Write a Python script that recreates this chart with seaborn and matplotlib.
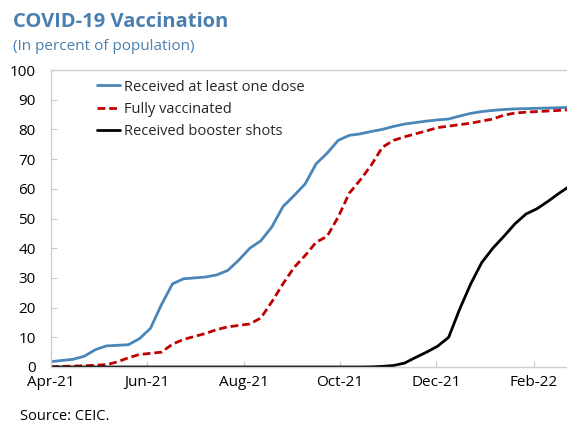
import matplotlib
matplotlib.use("Agg")
import matplotlib.pyplot as plt
import matplotlib.dates as mdates
import seaborn as sns
import pandas as pd

# ---- data (percent of population), weekly from 1 Apr 2021, last point 22 Feb 2022
dates = list(pd.date_range("2021-04-01", periods=47, freq="7D")) + [pd.Timestamp("2022-02-22")]

one_dose = [1.8, 2.2, 2.6, 3.6, 5.8, 7.1, 7.3, 7.5, 9.5, 13.0, 21.0, 28.0, 29.7, 30.0,
            30.3, 31.0, 32.5, 36.0, 40.0, 42.5, 47.2, 54.0, 57.7, 61.6, 68.4, 72.0,
            76.3, 78.0, 78.5, 79.3, 80.0, 81.0, 81.8, 82.3, 82.8, 83.2, 83.5, 84.5,
            85.4, 86.0, 86.4, 86.7, 86.9, 87.0, 87.1, 87.2, 87.3, 87.4]
fully = [0.1, 0.2, 0.3, 0.4, 0.6, 0.8, 1.7, 3.1, 4.2, 4.6, 5.0, 7.7, 9.3, 10.3,
         11.3, 12.6, 13.5, 14.0, 14.5, 16.5, 22.0, 28.0, 33.5, 37.5, 42.0, 44.0,
         50.5, 58.5, 63.0, 68.0, 74.0, 76.3, 77.5, 78.5, 79.5, 80.6, 81.1, 81.6,
         82.1, 82.8, 83.5, 84.8, 85.5, 85.8, 86.0, 86.2, 86.4, 86.6]
booster = [0, 0, 0, 0, 0, 0, 0, 0, 0, 0, 0, 0, 0, 0,
           0, 0, 0, 0, 0, 0, 0, 0, 0, 0, 0, 0,
           0, 0, 0, 0.05, 0.2, 0.5, 1.3, 3.2, 5.0, 7.0, 10.0, 19.5,
           28.0, 35.2, 40.0, 44.0, 48.2, 51.5, 53.3, 55.8, 58.5, 60.3]

series_names = ["Received at least one dose", "Fully vaccinated", "Received booster shots"]
y_ticks = list(range(0, 101, 10))

df = pd.concat([
    pd.DataFrame({"date": dates, "value": one_dose, "series": series_names[0]}),
    pd.DataFrame({"date": dates, "value": fully, "series": series_names[1]}),
    pd.DataFrame({"date": dates, "value": booster, "series": series_names[2]}),
])

sns.set_theme(style="white")
plt.rcParams["font.family"] = ["Open Sans", "DejaVu Sans"]

fig = plt.figure(figsize=(5.67, 4.24), dpi=100)
ax = fig.add_axes([51 / 567, 1 - 367 / 424, 1 - 51 / 567, 297 / 424])

palette = {series_names[0]: "#4a86b8", series_names[1]: "#c00000", series_names[2]: "#000000"}
dashes = {series_names[0]: "", series_names[1]: (2.8, 1.4), series_names[2]: ""}
sns.lineplot(data=df, x="date", y="value", hue="series", style="series",
             palette=palette, dashes=dashes, linewidth=2.0, ax=ax)

ax.set_xlim(pd.Timestamp("2021-04-01"), pd.Timestamp("2022-02-22"))
ax.set_ylim(0, 100)
ax.set_yticks(y_ticks)
ax.set_xlabel("")
ax.set_ylabel("")

ax.xaxis.set_major_locator(mdates.MonthLocator(bymonth=[2, 4, 6, 8, 10, 12]))
ax.xaxis.set_major_formatter(mdates.DateFormatter("%b-%y"))

for s in ["left", "top", "bottom"]:
    ax.spines[s].set_visible(True)
    ax.spines[s].set_color("#d0d0d0")
    ax.spines[s].set_linewidth(1.0)
ax.spines["right"].set_visible(False)

ax.tick_params(axis="both", which="major", direction="in", length=4, width=0.8,
               color="#c8c8c8", labelsize=11, labelcolor="#000000")
ax.tick_params(axis="y", pad=11, left=True)
ax.tick_params(axis="x", pad=6, bottom=True)

leg = ax.legend(loc="upper left", bbox_to_anchor=(0.089, 0.968), frameon=False,
                fontsize=10.5, handlelength=1.6, handletextpad=0.25,
                labelspacing=0.5, borderpad=0, borderaxespad=0)

fig.text(13 / 567, 1 - 22 / 424, "COVID-19 Vaccination", fontsize=14.5, fontweight="bold",
         color="#4a7fb0", va="center", ha="left")
fig.text(13 / 567, 1 - 46 / 424, "(In percent of population)", fontsize=11,
         color="#4a7fb0", va="center", ha="left")
fig.text(20 / 567, 1 - 416 / 424, "Source: CEIC.", fontsize=10.5,
         color="#000000", va="center", ha="left")

fig.savefig("out.png", dpi=100)
